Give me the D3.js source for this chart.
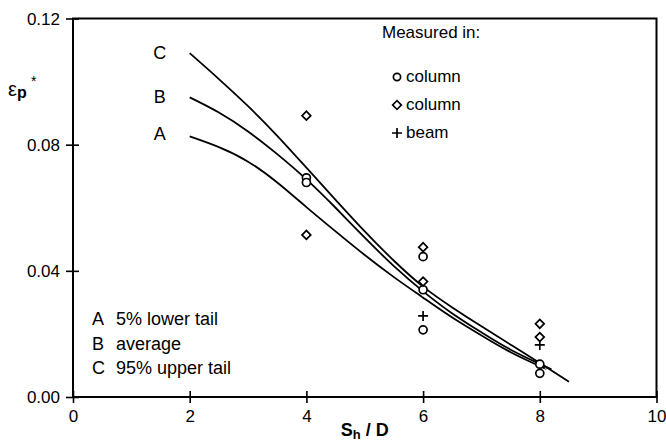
<!DOCTYPE html>
<html>
<head>
<meta charset="utf-8">
<script src="https://cdn.jsdelivr.net/npm/d3@7"></script>
<style>
  body { margin: 0; background: #fff; }
  svg { display: block; font-family: "Liberation Sans", Arial, sans-serif; }
  .axis path, .axis line { stroke: #000; }
</style>
</head>
<body>
<svg id="chart" width="666" height="442"></svg>
<script>
// curve values (S_h/D vs eps_p*)
const curveX_A = [2, 2.5, 3, 3.5, 4, 4.5, 5, 5.5, 6, 6.5, 7, 7.5, 8, 8.1];
const curveA   = [0.0826, 0.0792, 0.0746, 0.0680, 0.0602, 0.0525, 0.0450, 0.0380, 0.0315, 0.0252, 0.0195, 0.0142, 0.0098, 0.0090];
const curveX_B = [2, 2.5, 3, 3.5, 4, 4.5, 5, 5.5, 6, 6.5, 7, 7.5, 8, 8.2];
const curveB   = [0.0950, 0.0902, 0.0842, 0.0770, 0.0690, 0.0600, 0.0505, 0.0415, 0.0335, 0.0265, 0.0205, 0.0150, 0.0105, 0.0088];
const curveX_C = [2, 2.5, 3, 3.5, 4, 4.5, 5, 5.5, 6, 6.5, 7, 7.5, 8, 8.5];
const curveC   = [0.1090, 0.1008, 0.0922, 0.0828, 0.0727, 0.0625, 0.0525, 0.0432, 0.0350, 0.0284, 0.0224, 0.0166, 0.0108, 0.0048];

// measured points
const circleX  = [4, 4, 6, 6, 6, 8, 8];
const circleY  = [0.0695, 0.0680, 0.0445, 0.0340, 0.0213, 0.0104, 0.0075];
const diamondX = [4, 4, 6, 6, 8, 8];
const diamondY = [0.0892, 0.0514, 0.0475, 0.0366, 0.0232, 0.0190];
const plusX    = [6, 8];
const plusY    = [0.0257, 0.0165];

const xTicks = [0, 2, 4, 6, 8, 10];
const yTicks = [0, 0.04, 0.08, 0.12];
const curveNames = ["A", "B", "C"];
const curveNotes = ["5% lower tail", "average", "95% upper tail"];

const svg = d3.select("#chart");

const x = d3.scaleLinear().domain([0, 10]).range([73, 656.5]);
const y = d3.scaleLinear().domain([0, 0.12]).range([397, 18.5]);

// frame
svg.append("rect")
	.attr("x", x(0)).attr("y", y(0.12))
	.attr("width", x(10) - x(0)).attr("height", y(0) - y(0.12))
	.attr("fill", "none").attr("stroke", "#000").attr("stroke-width", 2);

// x axis, ticks crossing the line
let xAxis = svg.append("g").attr("class", "axis")
	.attr("transform", "translate(0," + y(0) + ")")
	.call(d3.axisBottom(x).tickValues(xTicks).tickSize(6).tickFormat(d3.format("d")));
xAxis.select(".domain").remove();
xAxis.selectAll(".tick line").attr("y1", -6).attr("y2", 6).attr("stroke-width", 1.6);
xAxis.selectAll(".tick text").attr("y", 25).attr("dy", 0).attr("font-size", 17)
	.attr("font-family", "Liberation Sans, Arial, sans-serif").attr("fill", "#000");

// y axis
let yAxis = svg.append("g").attr("class", "axis")
	.attr("transform", "translate(" + x(0) + ",0)")
	.call(d3.axisLeft(y).tickValues(yTicks).tickSize(6).tickFormat(d3.format(".2f")));
yAxis.select(".domain").remove();
yAxis.selectAll(".tick line").attr("x1", -7).attr("x2", 6).attr("stroke-width", 1.6);
yAxis.selectAll(".tick text").attr("x", -13).attr("dy", "0.34em").attr("font-size", 17)
	.attr("font-family", "Liberation Sans, Arial, sans-serif").attr("fill", "#000");

// curves
const line = d3.line()
	.x(d => x(d[0]))
	.y(d => y(d[1]))
	.curve(d3.curveNatural);

const curves = [
	d3.zip(curveX_A, curveA),
	d3.zip(curveX_B, curveB),
	d3.zip(curveX_C, curveC)
];

svg.append("g").selectAll("path")
	.data(curves)
	.join("path")
	.attr("d", line)
	.attr("fill", "none")
	.attr("stroke", "#000")
	.attr("stroke-width", 1.8);

// curve letters next to their start
svg.append("g").selectAll("text")
	.data(curves)
	.join("text")
	.attr("x", d => x(d[0][0]) - 30)
	.attr("y", (d, i) => y(d[0][1]) + (i == 0 ? 4 : 6))
	.attr("text-anchor", "middle")
	.attr("font-size", 18)
	.text((d, i) => curveNames[i]);

// markers
const diamond = d3.symbol().type(d3.symbolSquare).size(38);
const plus = "M-5,0H5M0,-5V5";

let pts = svg.append("g");
pts.selectAll("circle")
	.data(d3.zip(circleX, circleY))
	.join("circle")
	.attr("cx", d => x(d[0]))
	.attr("cy", d => y(d[1]))
	.attr("r", 4)
	.attr("fill", "#fff")
	.attr("stroke", "#000")
	.attr("stroke-width", 1.7);

pts.selectAll("path.diamond")
	.data(d3.zip(diamondX, diamondY))
	.join("path")
	.attr("class", "diamond")
	.attr("d", diamond)
	.attr("transform", d => "translate(" + x(d[0]) + "," + y(d[1]) + ") rotate(45)")
	.attr("fill", "#fff")
	.attr("stroke", "#000")
	.attr("stroke-width", 1.7);

pts.selectAll("path.plus")
	.data(d3.zip(plusX, plusY))
	.join("path")
	.attr("class", "plus")
	.attr("d", plus)
	.attr("transform", d => "translate(" + x(d[0]) + "," + y(d[1]) + ")")
	.attr("fill", "none")
	.attr("stroke", "#000")
	.attr("stroke-width", 1.7);

// legend top right
let leg = svg.append("g").attr("font-size", 17);
leg.append("text").attr("x", 382).attr("y", 38).text("Measured in:");
const legRows = ["column", "column", "beam"];
leg.selectAll("text.row")
	.data(legRows)
	.join("text")
	.attr("class", "row")
	.attr("x", 406)
	.attr("y", (d, i) => 82 + i * 28)
	.text(d => d);
leg.append("circle").attr("cx", 397).attr("cy", 77).attr("r", 3.6)
	.attr("fill", "#fff").attr("stroke", "#000").attr("stroke-width", 1.7);
leg.append("path").attr("d", diamond)
	.attr("transform", "translate(397,105) rotate(45)")
	.attr("fill", "#fff").attr("stroke", "#000").attr("stroke-width", 1.7);
leg.append("path").attr("d", plus)
	.attr("transform", "translate(397,133)")
	.attr("fill", "none").attr("stroke", "#000").attr("stroke-width", 1.7);

// legend bottom left
let note = svg.append("g").attr("font-size", 18);
note.selectAll("text.k")
	.data(curveNames)
	.join("text")
	.attr("class", "k")
	.attr("x", 92)
	.attr("y", (d, i) => 325 + i * 24.5)
	.text(d => d);
note.selectAll("text.v")
	.data(curveNotes)
	.join("text")
	.attr("class", "v")
	.attr("x", 116)
	.attr("y", (d, i) => 325 + i * 24.5)
	.text(d => d);

// axis titles
let yt = svg.append("text").attr("x", 8).attr("y", 96);
yt.append("tspan").attr("font-size", 20).text("ε");
yt.append("tspan").attr("font-size", 16).attr("font-weight", "bold").attr("dy", 2).text("p");
svg.append("text").attr("x", 31).attr("y", 86).attr("font-size", 14).text("*");

let xt = svg.append("text").attr("x", x(5)).attr("y", 436)
	.attr("text-anchor", "middle").attr("font-size", 18).attr("font-weight", "bold");
xt.append("tspan").text("S");
xt.append("tspan").attr("font-size", 13).attr("dy", 3).text("h");
xt.append("tspan").attr("dy", -3).text(" / D");
</script>
</body>
</html>
